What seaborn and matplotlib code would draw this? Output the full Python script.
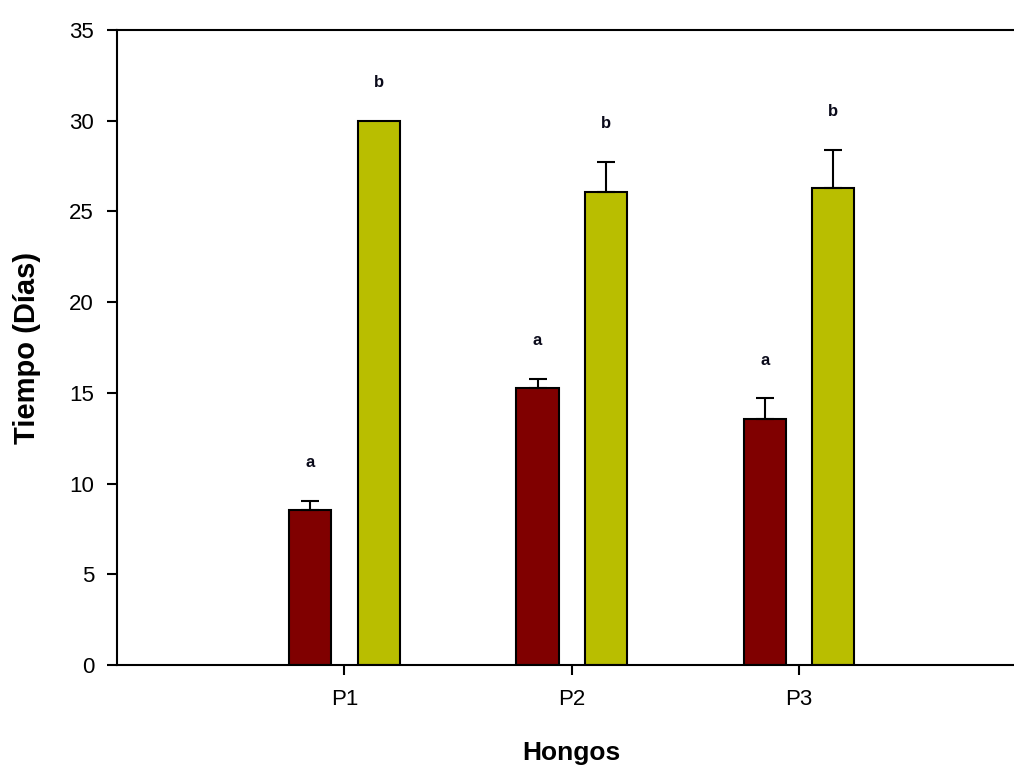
import numpy as np
import pandas as pd
import matplotlib
matplotlib.use("Agg")
import matplotlib.pyplot as plt
import seaborn as sns

# Mean time (days) per fungus and treatment, with standard error
hongos = ["P1", "P2", "P3"]
tratamientos = ["T1", "T2"]
tiempo_t1 = [8.55, 15.25, 13.55]
error_t1 = [0.50, 0.52, 1.15]
tiempo_t2 = [30.0, 26.05, 26.3]
error_t2 = [0.0, 1.70, 2.10]
letras_t1 = ["a", "a", "a"]
letras_t2 = ["b", "b", "b"]

colores = ["#800000", "#B9BE00"]

df = pd.DataFrame({
    "Hongo": hongos * 2,
    "Tratamiento": [tratamientos[0]] * 3 + [tratamientos[1]] * 3,
    "Tiempo": tiempo_t1 + tiempo_t2,
    "Error": error_t1 + error_t2,
    "Letra": letras_t1 + letras_t2,
})

sns.set_theme(style="white")
plt.rcParams["font.family"] = ["Liberation Sans", "DejaVu Sans"]
plt.rcParams["text.color"] = "black"
plt.rcParams["axes.labelcolor"] = "black"

fig = plt.figure(figsize=(10.14, 7.65), dpi=100)
ax = fig.add_axes([0.1154, 0.1307, 0.8969, 0.8301])

sns.barplot(
    data=df, x="Hongo", y="Tiempo", hue="Tratamiento",
    order=hongos, hue_order=tratamientos, palette=colores,
    width=0.602, gap=0.385, errorbar=None, legend=False,
    edgecolor="black", linewidth=1.5, saturation=1, ax=ax,
)

# Upward error bars and significance letters on each bar
bars = [p for p in ax.patches if p.get_height() > 0]
bars.sort(key=lambda p: p.get_x())
rows = []
for h in hongos:
    for t in tratamientos:
        rows.append(df[(df.Hongo == h) & (df.Tratamiento == t)].iloc[0])
for bar, row in zip(bars, rows):
    xc = bar.get_x() + bar.get_width() / 2
    top = row.Tiempo
    if row.Error > 0:
        ax.errorbar(xc, top, yerr=[[0], [row.Error]], fmt="none",
                    ecolor="black", elinewidth=1.5, capsize=6.5,
                    capthick=1.5, zorder=1)
    ax.text(xc, top + row.Error + 2.1, row.Letra, ha="center", va="center",
            fontsize=12, fontweight="bold", color="#0a0a1a")

ax.set_xlim(-1, 3)
ax.set_ylim(0, 35)
ax.set_yticks(np.arange(0, 36, 5))

for side in ["left", "top", "bottom"]:
    ax.spines[side].set_visible(True)
    ax.spines[side].set_color("black")
    ax.spines[side].set_linewidth(1.5)
ax.spines["right"].set_visible(False)

ax.tick_params(axis="both", which="major", direction="out", length=7.5,
               width=1.5, color="black", labelsize=16, labelcolor="black",
               pad=9)
ax.tick_params(axis="x", pad=10)
ax.tick_params(left=True, bottom=True)

ax.set_xlabel("Hongos", fontsize=19, fontweight="bold", labelpad=22)
ax.set_ylabel("Tiempo (Días)", fontsize=21, fontweight="bold", labelpad=20)

fig.savefig("out.png", dpi=100)
